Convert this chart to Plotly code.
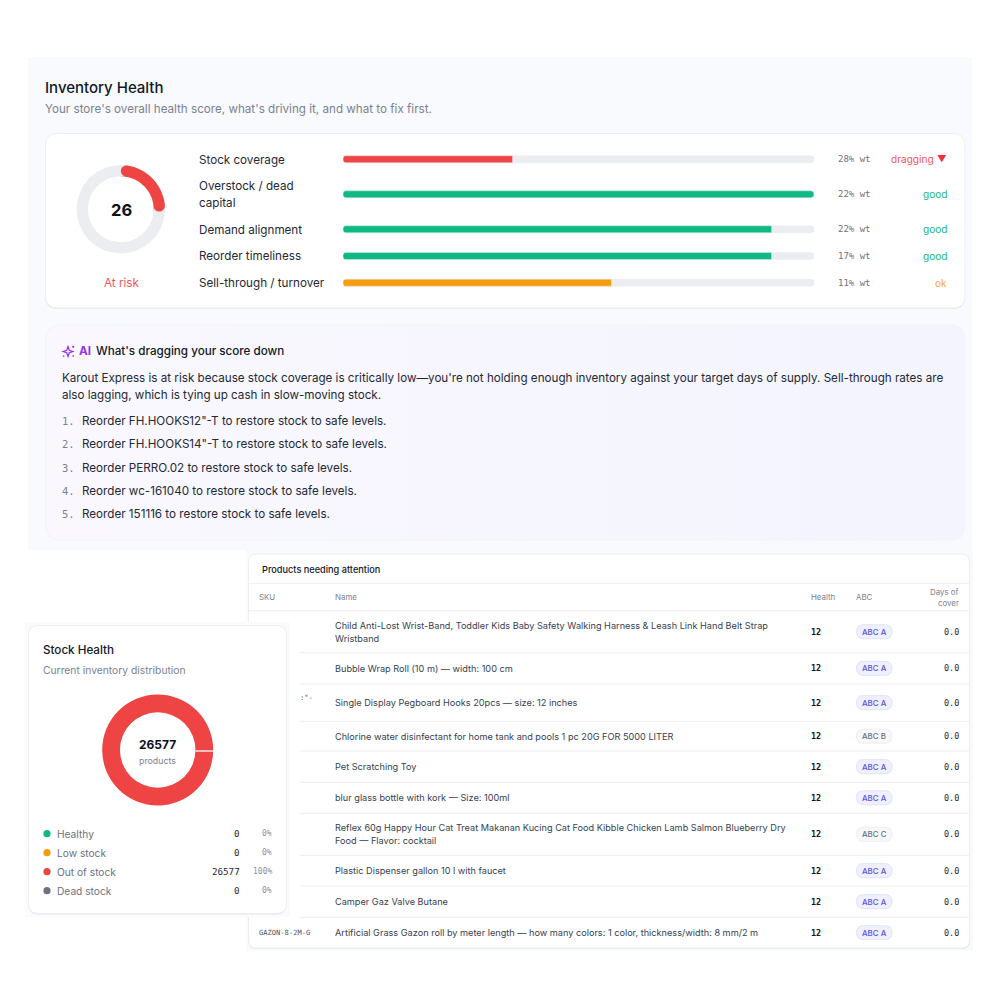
import math
import plotly.graph_objects as go

# Score card
score = 26
score_label = "At risk"
factors = ["Stock coverage", "Overstock / dead<br>capital", "Demand alignment", "Reorder timeliness", "Sell-through / turnover"]
factor_scores = [36, 100, 91, 91, 57]
factor_weights = ["28% wt", "22% wt", "22% wt", "17% wt", "11% wt"]
factor_status = ["dragging", "good", "good", "good", "ok"]

# AI summary
summary_lines = [
    "Karout Express is at risk because stock coverage is critically low\u2014you're not holding enough inventory against your target days of supply. Sell-through rates are",
    "also lagging, which is tying up cash in slow-moving stock.",
]
actions = ['FH.HOOKS12"-T', 'FH.HOOKS14"-T', "PERRO.02", "wc-161040", "151116"]

# Stock health
stock_labels = ["Healthy", "Low stock", "Out of stock", "Dead stock"]
stock_counts = [0, 0, 26577, 0]
stock_pcts = ["0%", "0%", "100%", "0%"]

# Products table
product_names = [
    "Child Anti-Lost Wrist-Band, Toddler Kids Baby Safety Walking Harness & Leash Link Hand Belt Strap<br>Wristband",
    "Bubble Wrap Roll (10 m) \u2014 width: 100 cm",
    "Single Display Pegboard Hooks 20pcs \u2014 size: 12 inches",
    "Chlorine water disinfectant for home tank and pools 1 pc 20G FOR 5000 LITER",
    "Pet Scratching Toy",
    "blur glass bottle with kork \u2014 Size: 100ml",
    "Reflex 60g Happy Hour Cat Treat Makanan Kucing Cat Food Kibble Chicken Lamb Salmon Blueberry Dry<br>Food \u2014 Flavor: cocktail",
    "Plastic Dispenser gallon 10 l with faucet",
    "Camper Gaz Valve Butane",
    "Artificial Grass Gazon roll by meter length \u2014 how many colors: 1 color, thickness/width: 8 mm/2 m",
]
product_skus = ["", "", ':"-', "", "", "", "", "", "", "GAZON-8-2M-G"]
product_health = [12] * 10
product_abc = ["A", "A", "A", "B", "A", "A", "C", "A", "A", "A"]
product_cover = [0.0] * 10

# Layout, in pixels of the 1000x1000 page
row_y = [159.3, 194.3, 229.3, 256, 282.7]
table_lines = [610.7, 652.7, 684, 721.3, 751, 782.3, 813.3, 855.3, 886, 917.3, 948]

SANS = "Inter"
MONO = "DejaVu Sans Mono"
RED, GREEN, AMBER, SLATE = "#ef4444", "#10b981", "#f59e0b", "#6b7280"
TRACK = "#ecedf1"
status_colors = {"dragging": "#f4565d", "good": "#22b883", "ok": "#f8ab2c"}
bar_colors = {"dragging": RED, "good": GREEN, "ok": AMBER}
stock_colors = [GREEN, AMBER, RED, SLATE]


def X(v):
    return v / 1000


def Y(v):
    return 1 - v / 1000


def box(x0, y0, x1, y1, r, fill, line=None, width=1, layer="below"):
    d = (
        f"M {X(x0 + r)} {Y(y0)} L {X(x1 - r)} {Y(y0)} Q {X(x1)} {Y(y0)} {X(x1)} {Y(y0 + r)} "
        f"L {X(x1)} {Y(y1 - r)} Q {X(x1)} {Y(y1)} {X(x1 - r)} {Y(y1)} "
        f"L {X(x0 + r)} {Y(y1)} Q {X(x0)} {Y(y1)} {X(x0)} {Y(y1 - r)} "
        f"L {X(x0)} {Y(y0 + r)} Q {X(x0)} {Y(y0)} {X(x0 + r)} {Y(y0)} Z"
    )
    return dict(type="path", xref="paper", yref="paper", path=d, fillcolor=fill, layer=layer,
                line=dict(color=line or "rgba(0,0,0,0)", width=width if line else 0))


def hline(x0, x1, y, color="#eceef2", width=1, layer="below"):
    return dict(type="line", xref="paper", yref="paper", x0=X(x0), x1=X(x1), y0=Y(y), y1=Y(y),
                layer=layer, line=dict(color=color, width=width))


def dot(cx, cy, r, color, layer="below"):
    return dict(type="circle", xref="paper", yref="paper", x0=X(cx - r), x1=X(cx + r), y0=Y(cy + r), y1=Y(cy - r),
                fillcolor=color, layer=layer, line=dict(width=0))


def ring_patch(cx, cy, r0, r1, a0, a1, color):
    # a piece of ring between two angles, clockwise from 12 o'clock
    steps = [a0 + (a1 - a0) * k / 8 for k in range(9)]
    pts = [(cx + r1 * math.sin(a), cy - r1 * math.cos(a)) for a in steps]
    pts += [(cx + r0 * math.sin(a), cy - r0 * math.cos(a)) for a in reversed(steps)]
    d = "M " + " L ".join(f"{X(px)} {Y(py)}" for px, py in pts) + " Z"
    return dict(type="path", xref="paper", yref="paper", path=d, fillcolor=color, layer="above", line=dict(width=0))


def bar_corner(x, y, dy):
    # white notch that rounds a bar's left corner; plotly only rounds the far end
    d = (f"M {X(x - 0.6)} {Y(y + dy)} L {X(x + 3.5)} {Y(y + dy)} Q {X(x)} {Y(y + dy)} {X(x)} {Y(y)} "
         f"L {X(x - 0.6)} {Y(y)} Z")
    return dict(type="path", xref="paper", yref="paper", path=d, fillcolor="#ffffff", layer="above", line=dict(width=0))


def label(x, y, text, size=11.65, color="#1f2937", anchor="left", family=SANS, weight=400):
    return dict(xref="paper", yref="paper", x=X(x), y=Y(y), text=text, showarrow=False, xanchor=anchor,
                yanchor="middle", align=anchor, borderpad=0, borderwidth=0,
                font=dict(family=family, size=size, color=color, weight=weight))


shapes = [
    box(28, 57, 972, 550, 0, "#f8fafd"),
    box(246, 550, 973, 951, 0, "#f9fafc"),
    # score card
    box(45.5, 134.5, 965, 309, 12, "#e3e5ea"),
    box(45.5, 133.5, 965, 308, 12, "#ffffff", "#eceef2"),
    # table card
    box(248.5, 555, 970, 949, 8, "#e6e8ec"),
    box(248.5, 554, 969.5, 948, 8, "#ffffff", "#eceef2"),
    hline(249, 969, 583.3),
    # panel laid over the table's left side
    box(249, 611, 300, 917, 0, "#ffffff"),
    box(25, 622, 290, 917, 0, "#fbfbfd"),
    box(28.5, 626.5, 286.5, 914.5, 10, "#e3e5ea"),
    box(28.5, 625.5, 286.5, 913.5, 10, "#ffffff", "#eceef2"),
]
for y in table_lines[:-1]:
    shapes.append(hline(249 if y == table_lines[0] else 300, 969, y))

annotations = [
    label(45, 88, "Inventory Health", 15, "#111827", weight=500),
    label(45, 108.5, "Your store's overall health score, what's driving it, and what to fix first.", 11.65, "#7b8290"),
    label(121, 209.5, str(score), 16.5, "#0b0f19", "center", weight=700),
    label(121, 283, score_label, 11.65, "#f4565d", "center"),
    label(79, 351, "AI", 11.65, "#9333ea", weight=700),
    label(96, 351, "What's dragging your score down", 11.65, "#111827", weight=500),
    label(262, 569, "Products needing attention", 9.2, "#111827", weight=500),
    label(259, 597, "SKU", 7.9, "#7b8290"),
    label(335, 597, "Name", 7.9, "#7b8290"),
    label(811, 597, "Health", 7.9, "#7b8290"),
    label(856, 597, "ABC", 7.9, "#7b8290"),
    label(958.5, 592, "Days of", 7.9, "#7b8290", "right"),
    label(958.5, 602.5, "cover", 7.9, "#7b8290", "right"),
    label(43, 649.5, "Stock Health", 11.65, "#111827", weight=500),
    label(43, 670, "Current inventory distribution", 10.3, "#7b8290"),
    label(157.7, 744.5, f"{sum(stock_counts)}", 12, "#0b0f19", "center", weight=700),
    label(157.7, 760.5, "products", 8.8, "#7b8290", "center"),
]

# score factor rows
for name, y, wt, status in zip(factors, row_y, factor_weights, factor_status):
    for j, line in enumerate(name.split("<br>")):
        offset = (j - 0.5) * 16.7 if "<br>" in name else 0
        annotations.append(label(199, y + offset + 0.3, line))
    annotations.append(label(838, y, wt, 9, "#6b7280", family=MONO))
    if status == "dragging":
        annotations.append(label(934, y, status, 10.1, status_colors[status], "right"))
        annotations.append(label(946.5, y - 1, "\u25bc", 9.5, "#ef2f3c", "right"))
    else:
        annotations.append(label(947, y, status, 10.1, status_colors[status], "right"))
    shapes.append(bar_corner(343, y, -3.6))
    shapes.append(bar_corner(343, y, 3.6))

# AI text
annotations.append(label(62, 378, summary_lines[0]))
annotations.append(label(62, 394.5, summary_lines[1]))
for i, sku in enumerate(actions):
    y = 421 + i * 23.25
    annotations.append(label(62, y, f"{i + 1}.", 10.5, "#7b8290", family=MONO))
    annotations.append(label(82, y, f"Reorder {sku} to restore stock to safe levels."))

# sparkle icon next to the AI tag
sx, sy = 68, 351.5
star = (f"M {X(sx)} {Y(sy - 5)} L {X(sx + 1.3)} {Y(sy - 1.3)} L {X(sx + 5)} {Y(sy)} L {X(sx + 1.3)} {Y(sy + 1.3)} "
        f"L {X(sx)} {Y(sy + 5)} L {X(sx - 1.3)} {Y(sy + 1.3)} L {X(sx - 5)} {Y(sy)} L {X(sx - 1.3)} {Y(sy - 1.3)} Z")
shapes.append(dict(type="path", xref="paper", yref="paper", path=star, fillcolor="#f3e8ff",
                   layer="above", line=dict(color="#9333ea", width=1.2)))
shapes.append(dot(73.2, 346.8, 1.1, "#9333ea", "above"))
shapes.append(dot(63.6, 356.2, 0.9, "#a855f7", "above"))
shapes.append(dot(73.2, 356, 0.9, "#a855f7", "above"))

# stock legend
for i, (name, n, pct, color) in enumerate(zip(stock_labels, stock_counts, stock_pcts, stock_colors)):
    y = 833.7 + i * 19
    shapes.append(dot(47, y, 3.6, color))
    annotations.append(label(56.5, y, name, 10.2, "#6b7280"))
    annotations.append(label(240, y, str(n), 9.2, "#1f2937", "right", MONO))
    annotations.append(label(272, y, pct, 8, "#8b919c", "right", MONO))

# table rows
for i, (name, sku, health, abc, cover) in enumerate(zip(product_names, product_skus, product_health, product_abc, product_cover)):
    top, bottom = (table_lines[i], table_lines[i + 1])
    mid = (top + bottom) / 2
    for j, line in enumerate(name.split("<br>")):
        offset = (j - 0.5) * 13 if "<br>" in name else 0
        annotations.append(label(335, mid + offset, line, 9.16, "#374151"))
    if sku:
        sku_x = 259 if i == 9 else 300
        annotations.append(label(sku_x, mid - (5 if i == 2 else 0), sku, 7.1, "#4b5563", family=MONO))
    annotations.append(label(811, mid, str(health), 8.5, "#111827", family=MONO, weight=700))
    annotations.append(label(958.5, mid, f"{cover:.1f}", 8.5, "#1f2937", "right", MONO))
    fill, edge, ink = ("#eef0fe", "#dfe3fb", "#5b50e0") if abc == "A" else ("#f6f7f9", "#eceef2", "#6b7280")
    shapes.append(box(856.5, mid - 7, 892, mid + 7, 7, fill, edge))
    annotations.append(label(874.3, mid, f"ABC {abc}", 7.9, ink, "center", weight=500))

# AI card: a gradient fill needs a trace, so it sits on a hidden pixel axis
cx0, cy0, cx1, cy1, cr = 45.5, 325, 965, 540, 12
card_x = [cx0 + cr, cx1 - cr, cx1 - cr * 0.3, cx1, cx1, cx1 - cr * 0.3, cx1 - cr, cx0 + cr, cx0 + cr * 0.3, cx0, cx0, cx0 + cr * 0.3, cx0 + cr]
card_y = [cy0, cy0, cy0 + cr * 0.3, cy0 + cr, cy1 - cr, cy1 - cr * 0.3, cy1, cy1, cy1 - cr * 0.3, cy1 - cr, cy0 + cr, cy0 + cr * 0.3, cy0]

data = [
    go.Scatter(x=card_x, y=card_y, xaxis="x2", yaxis="y2", mode="lines", fill="toself", hoverinfo="skip",
               line=dict(color="#f3f2fb", width=1),
               fillgradient=dict(type="horizontal", colorscale=[[0, "#faf8fe"], [1, "#f3f4fe"]])),
    go.Bar(x=[100] * len(row_y), y=row_y, orientation="h", width=7, marker_color=TRACK, hoverinfo="skip"),
    go.Bar(x=factor_scores, y=row_y, orientation="h", width=7,
           marker_color=[bar_colors[s] for s in factor_status], hoverinfo="skip"),
    go.Pie(values=[score, 100 - score], sort=False, direction="clockwise", rotation=0, hole=0.745,
           domain=dict(x=[X(76.6), X(165)], y=[Y(253.4), Y(165)]),
           marker=dict(colors=[RED, TRACK], line=dict(width=0)), textinfo="none", hoverinfo="skip", showlegend=False),
    go.Pie(values=stock_counts, labels=stock_labels, sort=False, direction="clockwise", rotation=90, hole=0.68,
           domain=dict(x=[X(102.2), X(213.2)], y=[Y(805.5), Y(694.5)]),
           marker=dict(colors=stock_colors, line=dict(width=0)), textinfo="none", hoverinfo="skip", showlegend=False),
]

# gauge: round caps drawn inside the slice, with its square corners painted back to track
gx, gy, gr0, gr1 = 120.8, 209.2, 32.9, 44.2
gr = (gr0 + gr1) / 2
cap = (gr1 - gr0) / 2
cap_angle = math.asin(cap / gr)
end = 2 * math.pi * score / 100
shapes.append(ring_patch(gx, gy, gr0, gr1, -0.01, cap_angle, TRACK))
shapes.append(ring_patch(gx, gy, gr0, gr1, end - cap_angle, end + 0.01, TRACK))
for a in (cap_angle, end - cap_angle):
    shapes.append(dot(gx + gr * math.sin(a), gy - gr * math.cos(a), cap, RED, "above"))
# seam of the full donut
shapes.append(hline(195.5, 214, 751, "#ffffff", 1.3, "above"))

layout = go.Layout(
    width=1000, height=1000, autosize=False, margin=dict(l=0, r=0, t=0, b=0),
    paper_bgcolor="#ffffff", plot_bgcolor="rgba(0,0,0,0)", showlegend=False,
    barmode="overlay", barcornerradius=4,
    xaxis=dict(domain=[X(343), X(814)], range=[0, 100], visible=False, fixedrange=True),
    yaxis=dict(domain=[Y(292), Y(150)], range=[292, 150], visible=False, fixedrange=True),
    xaxis2=dict(domain=[0, 1], range=[0, 1000], visible=False, fixedrange=True, anchor="y2"),
    yaxis2=dict(domain=[0, 1], range=[1000, 0], visible=False, fixedrange=True, anchor="x2"),
    shapes=shapes, annotations=annotations,
)
fig = go.Figure(data=data, layout=layout)
# the page's default body margin would push the 1000px figure 8px off
fig.write_html("out.html", config={"displayModeBar": False}, post_script="document.body.style.margin='0';")
